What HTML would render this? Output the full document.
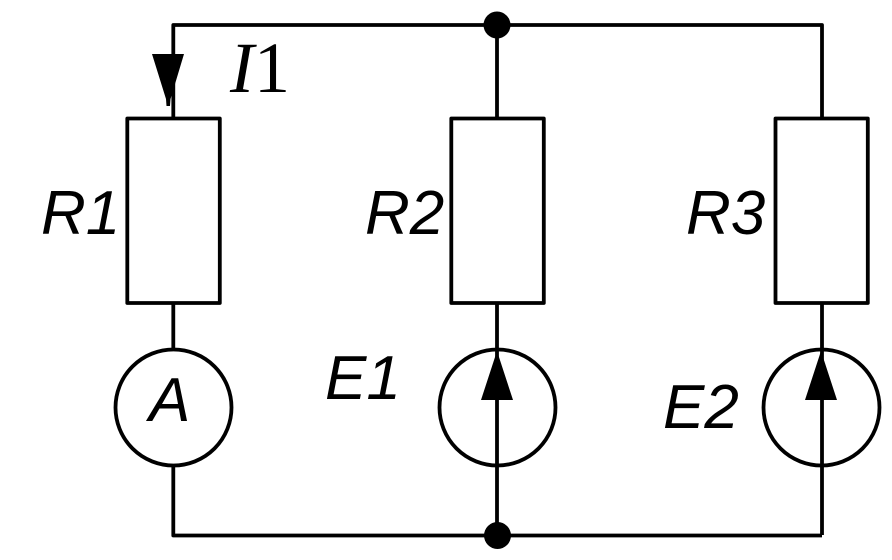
<!DOCTYPE html>
<html>
<head>
<meta charset="utf-8">
<style>
html,body{margin:0;padding:0;background:#fff;width:892px;height:560px;overflow:hidden}
svg{display:block}
text{fill:#000}
.s{font-family:"Liberation Sans",sans-serif;font-style:italic;font-size:62px}
.t{font-family:"Liberation Serif",serif;font-size:72px}
</style>
</head>
<body>
<svg width="892" height="560" viewBox="0 0 892 560" xmlns="http://www.w3.org/2000/svg">
<g fill="none" stroke="#000" stroke-width="3.800" stroke-linejoin="round">
<path d="M173.300 118V25H822V118"/>
<path d="M497 25V118"/>
<path d="M173.300 303V349M497 303V535M822 303V535M173.300 466V535.500H822"/>
<rect x="127.300" y="118.500" width="92.500" height="184.500"/>
<rect x="451.300" y="118.500" width="92.500" height="184.500"/>
<rect x="775.500" y="118.500" width="92.300" height="184.500"/>
<circle cx="173.500" cy="407.500" r="58"/>
<circle cx="497.500" cy="407.500" r="58"/>
<circle cx="821.500" cy="407.500" r="58"/>
</g>
<circle cx="497" cy="25" r="13.500" fill="#000"/>
<circle cx="497.500" cy="535.500" r="13.500" fill="#000"/>
<polygon points="152,54 184,54 170.500,99 170,106 166.500,106 166,99" fill="#000"/>
<polygon points="497,351 481,400 513,400" fill="#000"/>
<polygon points="821,351 805,400 837,400" fill="#000"/>
<text class="s" x="41" y="234">R1</text>
<text class="s" x="365" y="234">R2</text>
<text class="s" x="686" y="234">R3</text>
<text class="s" x="149" y="421">A</text>
<text class="s" x="325" y="399">E1</text>
<text class="s" x="663" y="428">E2</text>
<text class="t" x="230" y="92"><tspan font-style="italic">I</tspan>1</text>
</svg>
</body>
</html>
